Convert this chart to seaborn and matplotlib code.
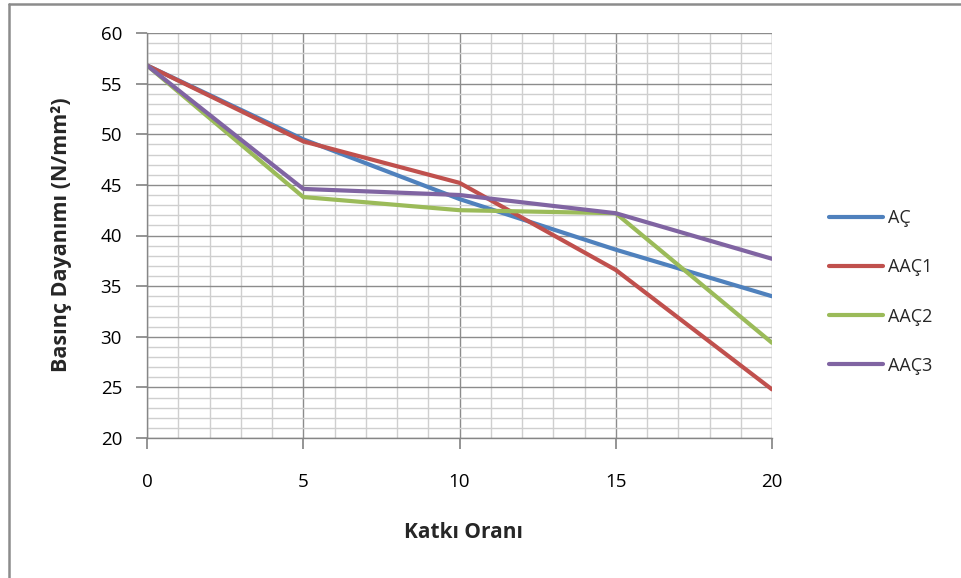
import matplotlib
matplotlib.use("Agg")
import matplotlib.pyplot as plt
import seaborn as sns
import pandas as pd
from matplotlib.lines import Line2D
from matplotlib.ticker import MultipleLocator

katki = [0, 5, 10, 15, 20]
ac = [56.8, 49.5, 43.6, 38.6, 34.0]
aac1 = [56.8, 49.3, 45.2, 36.6, 24.8]
aac2 = [56.8, 43.8, 42.5, 42.2, 29.4]
aac3 = [56.8, 44.6, 44.0, 42.2, 37.7]
series_names = ["AÇ", "AAÇ1", "AAÇ2", "AAÇ3"]
colors = ["#4F81BD", "#C0504D", "#9BBB59", "#8064A2"]

df = pd.DataFrame({
    "Katkı Oranı": katki * 4,
    "value": ac + aac1 + aac2 + aac3,
    "series": sum([[n] * len(katki) for n in series_names], []),
})

sns.set_theme(style="white")
plt.rcParams["font.family"] = ["Open Sans", "DejaVu Sans"]

fig = plt.figure(figsize=(9.62, 5.78), dpi=100)
ax = fig.add_axes([147 / 962, 1 - 438 / 578, (772 - 147) / 962, (438 - 33) / 578])

sns.lineplot(data=df, x="Katkı Oranı", y="value", hue="series",
             palette=colors, hue_order=series_names, linewidth=3.0,
             ax=ax, legend=True)

ax.set_xlim(0, 20)
ax.set_ylim(20, 60)
ax.xaxis.set_major_locator(MultipleLocator(5))
ax.xaxis.set_minor_locator(MultipleLocator(1))
ax.yaxis.set_major_locator(MultipleLocator(5))
ax.yaxis.set_minor_locator(MultipleLocator(1))
ax.grid(True, which="major", color="#8C8C8C", linewidth=1.0)
ax.grid(True, which="minor", color="#CFCFCF", linewidth=1.0)
ax.set_axisbelow(True)
for s in ["top", "right"]:
    ax.spines[s].set_visible(False)
for s in ["left", "bottom"]:
    ax.spines[s].set_color("#868686")
    ax.spines[s].set_linewidth(1.0)
ax.tick_params(axis="both", which="major", direction="out", length=8,
               color="#868686", labelsize=13.5, labelcolor="black", left=True, bottom=True)
ax.tick_params(axis="x", which="major", pad=17)
ax.tick_params(axis="y", which="major", pad=10)
ax.tick_params(which="minor", length=0)

ax.set_xlabel("Katkı Oranı", fontsize=15, fontweight="bold")
ax.xaxis.set_label_coords(463 / 962, 1 - 532 / 578, transform=fig.transFigure)
ax.set_ylabel("Basınç Dayanımı (N/mm²)", fontsize=15.5, fontweight="bold")
ax.yaxis.set_label_coords(62 / 962, 1 - 235 / 578, transform=fig.transFigure)
ax.xaxis.label.set_va("center")
ax.yaxis.label.set_va("center")

handles, labels = ax.get_legend_handles_labels()
if ax.get_legend():
    ax.get_legend().remove()
leg = fig.legend(handles, labels, loc="center left", bbox_to_anchor=(813 / 962, 1 - 292 / 578),
                 frameon=False, fontsize=13, handlelength=3.0, handletextpad=0.25,
                 labelspacing=1.72)
for h in leg.get_lines():
    h.set_linewidth(3.0)

# outer chart frame (left and top edges visible, rest cut off)
fig.add_artist(Line2D([9 / 962, 9 / 962], [0, 1 - 4 / 578], transform=fig.transFigure,
                      color="#8C8C8C", linewidth=1.8))
fig.add_artist(Line2D([9 / 962, 1], [1 - 4 / 578, 1 - 4 / 578], transform=fig.transFigure,
                      color="#8C8C8C", linewidth=1.8))

fig.savefig("out.png", dpi=100)
